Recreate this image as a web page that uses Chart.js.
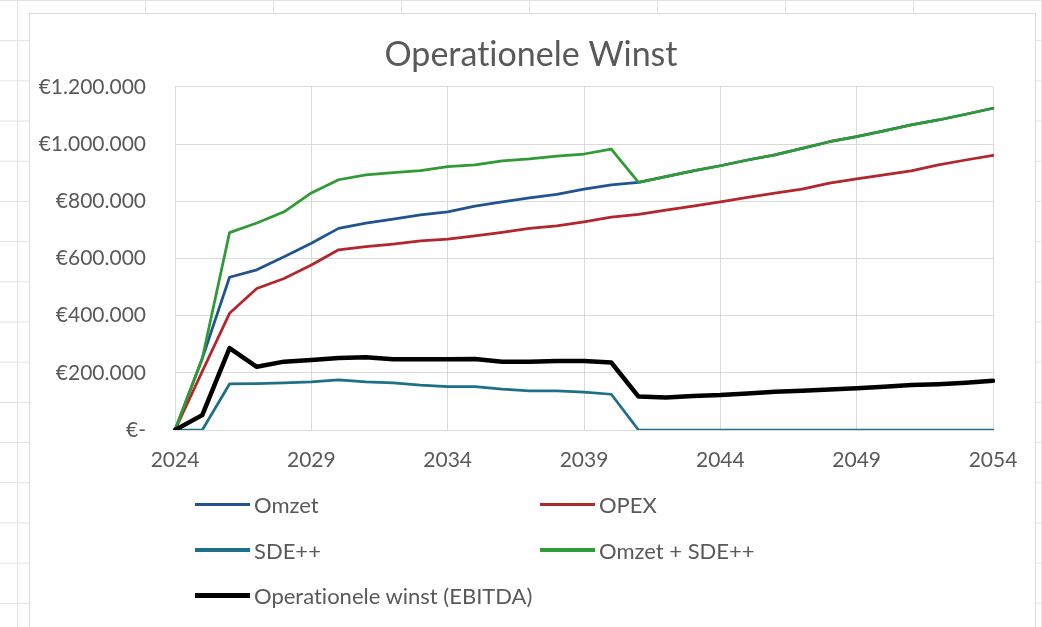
<!DOCTYPE html>
<html lang="nl">
<head>
<meta charset="utf-8">
<title>Operationele Winst</title>
<script src="https://cdn.jsdelivr.net/npm/chart.js@4/dist/chart.umd.min.js"></script>
<style>
  html, body { margin: 0; padding: 0; }
  body {
    width: 1042px; height: 627px; overflow: hidden; position: relative;
    background: #fff; font-family: Lato, "Open Sans", sans-serif;
  }
  .sheet {
    position: absolute; inset: 0;
    background-image:
      linear-gradient(to right, #e2e2e2 1px, transparent 1px),
      linear-gradient(to bottom, #e2e2e2 1px, transparent 1px);
    background-size: 128px 100%, 100% 40.2px;
    background-position: 17px 0, 0 0;
  }
  .box {
    position: absolute; left: 29px; top: 13px; width: 1005px; height: 700px;
    background: #fff; border: 1px solid #d9d9d9;
  }
  #chart { position: absolute; left: 0; top: 0; font-variant-ligatures: none; }
  #legend { position: absolute; left: 0; top: 0; }
  .li {
    position: absolute; display: flex; align-items: center;
    font-size: 22px; color: #595959; white-space: nowrap;
    font-variant-ligatures: none;
  }
  .li i { display: inline-block; width: 55px; margin-right: 4px; }
</style>
</head>
<body>
<div class="sheet"></div>
<div class="box"></div>
<canvas id="chart" width="1042" height="627"></canvas>
<div id="legend"></div>
<script>
// ---------- data ----------
const years = [];
for (let y = 2024; y <= 2054; y++) years.push(String(y));

const omzet = [0, 250000, 534000, 560000, 606000, 653000, 705000, 723000, 737000, 752000,
  763000, 783000, 798000, 812000, 824000, 842000, 857000, 866000, 886000, 906000,
  924000, 944000, 962000, 985000, 1008000, 1026000, 1046000, 1067000, 1084000, 1104000, 1125000];
const opex = [0, 205000, 408000, 495000, 530000, 577000, 630000, 641000, 650000, 661000,
  667000, 679000, 691000, 705000, 714000, 728000, 744000, 754000, 769000, 783000,
  798000, 813000, 828000, 842000, 863000, 878000, 892000, 906000, 927000, 944000, 960000];
const sde = [0, 0, 161000, 162000, 165000, 168000, 175000, 168000, 165000, 157000,
  152000, 152000, 143000, 137000, 137000, 132000, 125000, 0, 0, 0,
  0, 0, 0, 0, 0, 0, 0, 0, 0, 0, 0];
const omzetSde = [0, 250000, 690000, 724000, 763000, 829000, 875000, 892000, 900000, 907000,
  921000, 927000, 941000, 948000, 958000, 965000, 982000, 866000, 886000, 906000,
  924000, 944000, 962000, 985000, 1008000, 1026000, 1046000, 1067000, 1084000, 1104000, 1125000];
const ebitda = [0, 52000, 286000, 221000, 239000, 245000, 252000, 254000, 247000, 247000,
  247000, 248000, 239000, 239000, 241000, 241000, 236000, 117000, 114000, 119000,
  122000, 128000, 134000, 137000, 142000, 146000, 151000, 157000, 160000, 165000, 172000];

const GRID = "#d9d9d9";
const TXT = "#595959";

function euro(v) {
  if (v === 0) return "€-";
  return "€" + String(v).replace(/\B(?=(\d{3})+(?!\d))/g, ".");
}

function line(label, data, color, width, order) {
  return {
    label, data, order,
    borderColor: color, backgroundColor: color,
    borderWidth: width, pointRadius: 0, tension: 0,
    borderJoinStyle: "round", borderCapStyle: "round",
  };
}

Chart.defaults.font.family = "Lato, 'Open Sans', sans-serif";

// Calibri-style text: no "ti" ligature
const noLiga = {
  id: "noLiga",
  beforeDraw(c) { c.ctx.textRendering = "optimizeSpeed"; },
};

const chart = new Chart(document.getElementById("chart"), {
  type: "line",
  plugins: [noLiga],
  data: {
    labels: years,
    datasets: [
      line("Omzet", omzet, "#21548f", 2.75, 4),
      line("OPEX", opex, "#b3262b", 2.75, 3),
      line("SDE++", sde, "#1d7088", 2.75, 2),
      line("Omzet + SDE++", omzetSde, "#2f9b34", 2.75, 1),
      line("Operationele winst (EBITDA)", ebitda, "#000000", 4.5, 0),
    ],
  },
  options: {
    responsive: false,
    animation: false,
    layout: { padding: { left: 20, right: 0, top: 0, bottom: 0 } },
    plugins: {
      legend: { display: false },
      tooltip: { enabled: false },
      title: {
        display: true,
        text: "Operationele Winst",
        color: TXT,
        font: { size: 34, weight: "normal" },
        padding: { top: 35, bottom: 11 },
      },
    },
    scales: {
      x: {
        type: "category",
        grid: {
          drawTicks: false,
          color: (c) => (c.index % 5 === 0 ? GRID : "rgba(0,0,0,0)"),
        },
        border: { color: GRID },
        ticks: {
          autoSkip: false, maxRotation: 0, minRotation: 0, padding: 18,
          color: TXT, font: { size: 21 },
          callback: function (v, i) { return i % 5 === 0 ? this.getLabelForValue(v) : ""; },
        },
        afterFit: (s) => { s.height = 197; },
      },
      y: {
        min: 0, max: 1200000,
        grid: { drawTicks: false, color: GRID },
        border: { color: GRID },
        ticks: {
          stepSize: 200000, padding: 29,
          color: TXT, font: { size: 21 },
          callback: (v) => euro(v),
        },
        afterFit: (s) => { s.width = 155; },
      },
      // empty right-hand spacer so the plot ends where Excel's does
      spacer: {
        type: "linear", position: "right",
        grid: { display: false }, border: { display: false },
        ticks: { display: false },
        afterFit: (s) => { s.width = 49; },
      },
    },
  },
});

// ---------- legend (2 columns, like Excel) ----------
const lg = document.getElementById("legend");
chart.data.datasets.forEach((ds, i) => {
  const col = i % 2, row = Math.floor(i / 2);
  const el = document.createElement("div");
  el.className = "li";
  el.style.left = (195 + col * 345) + "px";
  el.style.top = (505 + row * 45.5 - 14) + "px";
  el.innerHTML = `<i style="height:${ds.borderWidth + 0.5}px;background:${ds.borderColor}"></i>${ds.label}`;
  lg.appendChild(el);
});
</script>
</body>
</html>
